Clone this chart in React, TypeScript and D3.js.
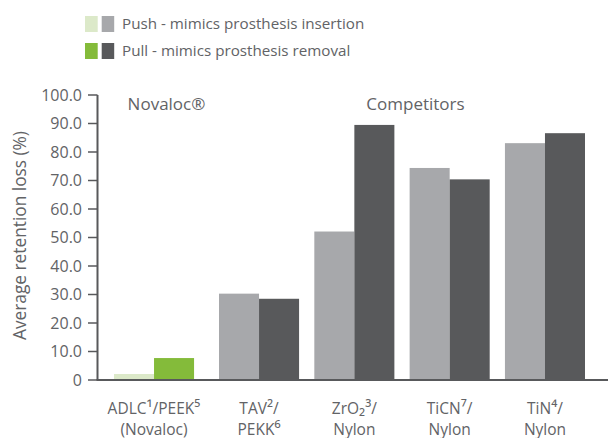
import React from "react";
import * as d3 from "d3";

const categories = ["ADLC/PEEK", "TAV/PEKK", "ZrO2/Nylon", "TiCN/Nylon", "TiN/Nylon"];
const labelLine1 = ["ADLC¹/PEEK⁵", "TAV²/", "ZrO₂³/", "TiCN⁷/", "TiN⁴/"];
const labelLine2 = ["(Novaloc)", "PEKK⁶", "Nylon", "Nylon", "Nylon"];
const pushValues = [2.1, 30.3, 52.1, 74.4, 83.1];
const pullValues = [7.7, 28.5, 89.5, 70.4, 86.6];
const series = ["Push - mimics prosthesis insertion", "Pull - mimics prosthesis removal"];
const groupLabels = ["Novaloc®", "Competitors"];
const yTicks = [0, 10, 20, 30, 40, 50, 60, 70, 80, 90, 100];

const W = 609;
const H = 438;
const FONT = "'Open Sans', 'Noto Sans', sans-serif";
const TEXT = "#626366";
const AXIS = "#58595b";
const novalocColors = ["#dce9c9", "#84bb3a"];
const compColors = ["#a7a8ab", "#58595b"];
const SUP = "¹²³⁴⁵⁶⁷⁸⁹₂";

function RichLine({ s, x, y }: { s: string; x: number; y: number }) {
  const parts: { t: string; sup: boolean }[] = [];
  for (const ch of s) {
    const sup = SUP.includes(ch);
    const last = parts[parts.length - 1];
    if (last && last.sup === sup) last.t += ch;
    else parts.push({ t: ch, sup });
  }
  return (
    <text x={x} y={y} textAnchor="middle" fontSize={15.5} fill={TEXT}>
      {parts.map((p, i) =>
        p.sup ? (
          <tspan key={i} fontSize={17.5}>{p.t}</tspan>
        ) : (
          <tspan key={i}>{p.t}</tspan>
        )
      )}
    </text>
  );
}

export default function App() {
  const y = d3.scaleLinear().domain([0, 100]).range([380, 95]);
  const x = d3.scaleBand<string>().domain(categories).range([123.7, 585]).paddingInner(0.16).paddingOuter(0);
  const novalocShift = -9.7;
  const xs = d3.scaleBand<number>().domain([0, 1]).range([0, x.bandwidth()]);
  const groupX = (i: number) => (x(categories[i]) as number) + (i === 0 ? novalocShift : 0);
  const axisX = 97.5;

  return (
    <svg width={W} height={H} style={{ position: "absolute", left: 0, top: 0, background: "#fff" }} fontFamily={FONT}>
      {/* legend */}
      {series.map((s, si) => (
        <g key={s} transform={`translate(85, ${16 + si * 27})`}>
          <rect x={0} y={0} width={12.7} height={16} fill={novalocColors[si]} />
          <rect x={16.7} y={0} width={12.5} height={16} fill={compColors[si]} />
          <text x={37} y={13} fontSize={15.2} fill={TEXT}>{s}</text>
        </g>
      ))}

      {/* bars */}
      {categories.map((c, i) => {
        const cols = i === 0 ? novalocColors : compColors;
        return (
          <g key={c} transform={`translate(${groupX(i)},0)`}>
            {[pushValues[i], pullValues[i]].map((v, k) => (
              <rect key={k} x={xs(k) as number} y={y(v)} width={xs.bandwidth()} height={y(0) - y(v)} fill={cols[k]} />
            ))}
          </g>
        );
      })}

      {/* y axis */}
      <line x1={axisX} x2={axisX} y1={y(100)} y2={y(0)} stroke={AXIS} strokeWidth={2} />
      {yTicks.map((t) => (
        <g key={t} transform={`translate(0,${y(t)})`}>
          <line x1={axisX - 9.5} x2={axisX} y1={0} y2={0} stroke={AXIS} strokeWidth={1.5} />
          <text x={82} y={0} dy="0.36em" textAnchor="end" fontSize={16} fill={TEXT}>
            {t === 0 ? "0" : t.toFixed(1)}
          </text>
        </g>
      ))}
      {/* x baseline */}
      <line x1={axisX - 1} x2={608} y1={y(0)} y2={y(0)} stroke={AXIS} strokeWidth={2} />

      {/* y title */}
      <text transform={`translate(25.5,${235.5}) rotate(-90)`} textAnchor="middle" fontSize={17.3} fill={TEXT}>
        Average retention loss (%)
      </text>

      {/* group labels */}
      <text x={166.5} y={110} textAnchor="middle" fontSize={17} fill={TEXT}>{groupLabels[0]}</text>
      <text x={415.5} y={110} textAnchor="middle" fontSize={17} fill={TEXT}>{groupLabels[1]}</text>

      {/* x labels */}
      {categories.map((c, i) => (
        <g key={c}>
          <RichLine s={labelLine1[i]} x={groupX(i) + x.bandwidth() / 2} y={414} />
          <RichLine s={labelLine2[i]} x={groupX(i) + x.bandwidth() / 2} y={435} />
        </g>
      ))}
    </svg>
  );
}
